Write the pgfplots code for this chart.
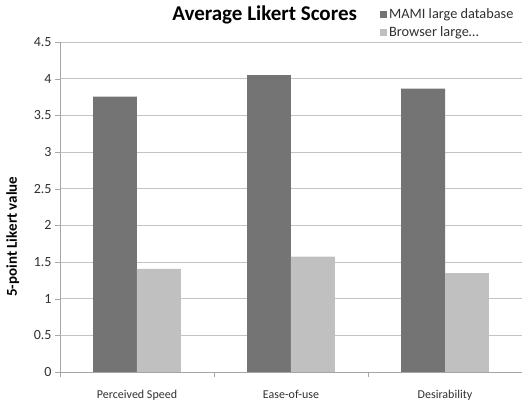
\documentclass[border=0pt]{standalone}
\usepackage{pgfplots}
\pgfplotsset{compat=1.18}
\usepackage{fontspec}
\setmainfont{Carlito}
\definecolor{darkbar}{HTML}{747474}
\definecolor{lightbar}{HTML}{C0C0C0}
\definecolor{gridc}{HTML}{C4C4C4}
\definecolor{axc}{HTML}{A6A6A6}
\definecolor{txt}{HTML}{303030}
\begin{document}
\begin{tikzpicture}
\begin{axis}[
  scale only axis,
  width=462bp, height=330bp,
  at={(0,0)}, anchor=south west,
  ymin=0, ymax=4.5, ytick={0,0.5,...,4.5},
  xmin=-0.5, xmax=2.5,
  xtick={0,1,2},
  xticklabels={Perceived Speed, Ease-of-use, Desirability},
  minor xtick={-0.5,0.5,1.5,2.5},
  major x tick style={draw=none},
  minor x tick style={draw=axc},
  minor tick length=5bp,
  major tick length=5bp,
  tick align=outside,
  y tick style={draw=axc},
  axis x line*=bottom, axis y line*=left,
  axis line style={draw=axc,-},
  ymajorgrids, grid style={gridc, line width=0.8pt},
  yticklabel style={font=\fontsize{14bp}{16bp}\selectfont, text=txt},
  xticklabel style={font=\fontsize{12bp}{14bp}\selectfont, text=txt},
  xticklabel shift=10bp,
  /pgf/number format/assume math mode=true,
  ylabel={\textbf{5-point Likert value}},
  ylabel style={font=\fontsize{15bp}{17bp}\selectfont, text=black, at={(axis description cs:-0.102,0.41)}, anchor=center},
  title={\textbf{Average Likert Scores}},
  title style={font=\fontsize{21bp}{24bp}\selectfont, text=black, at={(axis description cs:0.443,1.064)}, anchor=center},
  ybar, bar width=0.285,
  legend style={at={(axis description cs:0.6926,1.108)}, anchor=north west, draw=none, fill=none,
    font=\fontsize{14.3bp}{16bp}\selectfont, text=txt, row sep=3bp, inner sep=0pt,
    /tikz/every even column/.append style={column sep=5bp}},
  legend image code/.code={\fill[#1] (0bp,-3.5bp) rectangle (7bp,3.5bp);},
  legend cell align=left,
]
\addplot[fill=darkbar, draw=none, bar shift=-0.1425] coordinates {(0,3.755) (1,4.05) (2,3.865)};
\addplot[fill=lightbar, draw=none, bar shift=0.1425] coordinates {(0,1.405) (1,1.575) (2,1.35)};
\legend{MAMI large database, Browser large\ldots}
\end{axis}
\pgfresetboundingbox
\path (-60bp,-33bp) rectangle (462bp,372bp);
\end{tikzpicture}
\end{document}
